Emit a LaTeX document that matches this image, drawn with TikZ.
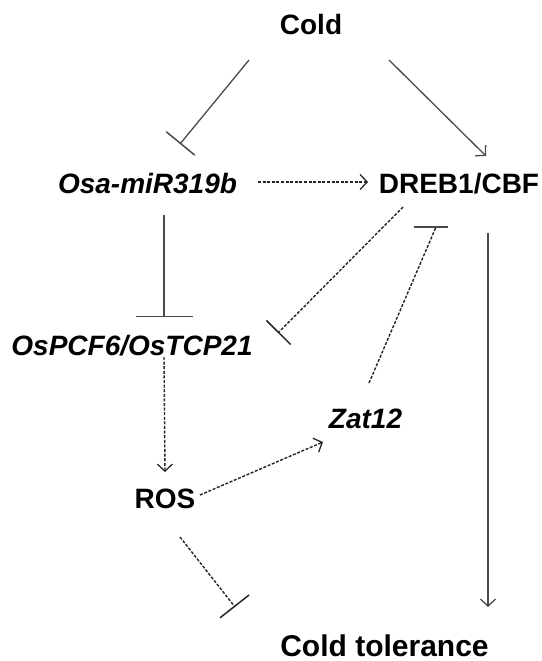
\documentclass[tikz,border=0pt]{standalone}
\usepackage{fontspec}
\setmainfont{Liberation Sans}
\usetikzlibrary{arrows.meta}
\definecolor{solidline}{HTML}{4A4A4A}
\definecolor{dashline}{HTML}{262626}
\tikzset{
  lbl/.style={anchor=base, inner sep=0pt, font=\fontsize{28}{30}\selectfont\bfseries},
  lbli/.style={lbl, font=\fontsize{28}{30}\selectfont\bfseries\itshape},
  solidc/.style={draw=solidline, line width=1.3pt},
  dashc/.style={draw=dashline, line width=1.4pt, dash pattern=on 3pt off 1.6pt},
  actarrow/.style={-{Straight Barb[length=7pt,width=15pt,line width=1.3pt]}},
  inhbar/.style={-{Bar[width=#1,line width=1.5pt]}},
  inhbar/.default=36pt
}
\begin{document}
\begin{tikzpicture}[x=1pt,y=-1pt]
\useasboundingbox[fill=white] (0,0) rectangle (541,661);
% nodes
\node[lbl]  (cold) at (311,35) {Cold};
\node[lbli] (mir)  at (147.5,193) {Osa-miR319b};
\node[lbl]  (dreb) at (459,193) {DREB1/CBF};
\node[lbli] (pcf)  at (132,355) {OsPCF6/OsTCP21};
\node[lbli] (zat)  at (365.5,428) {Zat12};
\node[lbl]  (ros)  at (165,508) {ROS};
\node[lbl, font=\fontsize{30}{32}\selectfont\bfseries] (tol) at (384.5,656) {Cold tolerance};
% connectors
\draw[solidc, inhbar=37pt] ([xshift=-62pt,yshift=-25pt]cold.base) -- ([xshift=32.5pt,yshift=49pt]mir.base);
\draw[solidc, actarrow] ([xshift=78pt,yshift=-25pt]cold.base) -- ([xshift=27pt,yshift=37pt]dreb.base);
\draw[dashc, actarrow] ([xshift=110.5pt,yshift=11pt]mir.base) -- ([xshift=-91pt,yshift=11pt]dreb.base);
\draw[solidc, inhbar=57pt] ([xshift=16.5pt,yshift=-22pt]mir.base) -- ([xshift=32pt,yshift=38pt]pcf.base);
\draw[dashc, inhbar=34pt] ([xshift=-56pt,yshift=-14pt]dreb.base) -- ([xshift=146pt,yshift=22pt]pcf.base);
\draw[dashc] ([xshift=3.5pt,yshift=45pt]zat.base) -- ([xshift=-23pt,yshift=-34pt]dreb.base) coordinate (zbar);
\draw[solidc, line width=1.5pt] ([xshift=-22pt]zbar) -- ([xshift=12pt]zbar);
\draw[solidc, actarrow] ([xshift=29pt,yshift=-40pt]dreb.base) -- ([xshift=103.5pt,yshift=49pt]tol.base);
\draw[dashc, actarrow] ([xshift=-1pt,yshift=-2pt]pcf.base -| ros.base) -- ([yshift=36pt]ros.base);
\draw[dashc, actarrow] ([xshift=35pt,yshift=13pt]ros.base) -- ([xshift=-42.5pt,yshift=-14pt]zat.base);
\draw[dashc, inhbar=37pt] ([xshift=15pt,yshift=-29pt]ros.base) -- ([xshift=-149.5pt,yshift=49pt]tol.base);
\end{tikzpicture}
\end{document}
